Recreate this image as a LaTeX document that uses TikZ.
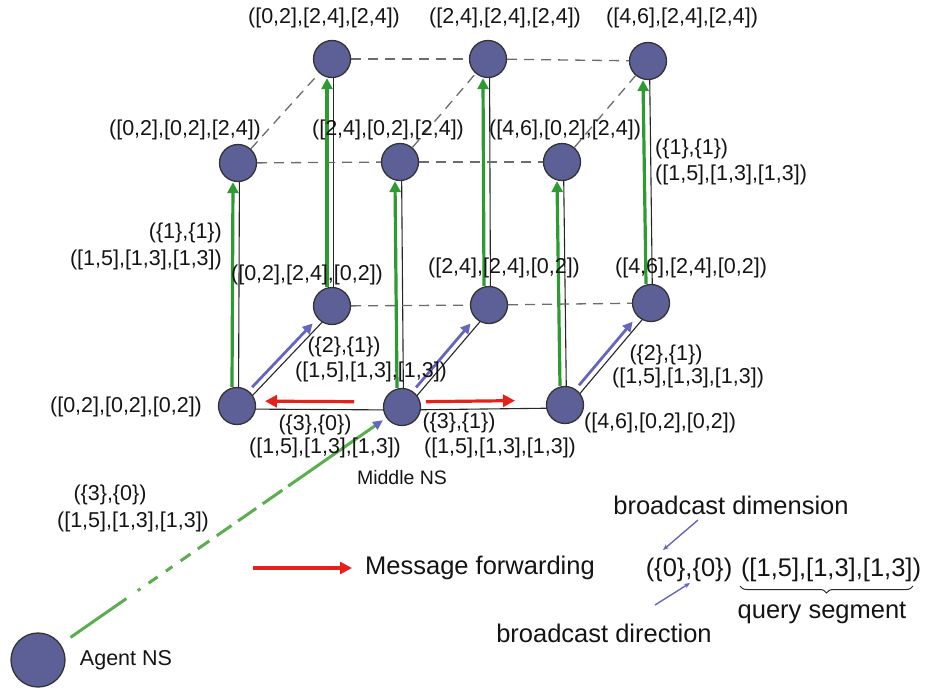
\documentclass[tikz,border=0pt]{standalone}
\usepackage{fontspec}
\setmainfont{Liberation Sans}
\usetikzlibrary{arrows.meta,calc,backgrounds,decorations.pathreplacing}
\definecolor{nsblue}{HTML}{5C6096}
\definecolor{arrgreen}{HTML}{2E9A32}
\definecolor{dgreen}{HTML}{5AAE4E}
\definecolor{fwdred}{HTML}{E8201C}
\definecolor{bblue}{HTML}{6666BE}
\begin{document}
\begin{tikzpicture}[x=1pt,y=-1pt,
 ns/.style={circle,draw=black!80,fill=nsblue,line width=1.3pt,minimum size=37pt,inner sep=0pt},
 agentns/.style={ns,minimum size=54pt},
 lbl/.style={font=\fontsize{21.5}{24}\selectfont,inner sep=0pt,text=black!92},
 leg/.style={font=\fontsize{25.5}{28}\selectfont,inner sep=0pt,text=black!92},
 edge/.style={draw=black!85,line width=1.1pt},
 dsh/.style={draw=gray!85!black,line width=1.3pt,dash pattern=on 10pt off 7pt},
 garr/.style={draw=arrgreen,line width=3.2pt,-{Triangle[length=11pt,width=11pt]}},
 rarr/.style={draw=fwdred,line width=3.2pt,-{Triangle[length=12pt,width=12pt]}},
 barr/.style={draw=bblue,line width=2.8pt,-{Triangle[length=10pt,width=10pt]}},
 thinb/.style={draw=bblue,line width=1.4pt,-{Stealth[length=6pt,width=5pt]}},
 gdash/.style={draw=dgreen,line width=3pt,-{Triangle[length=10pt,width=9pt,color=bblue]},
   dash pattern=on 68pt off 14pt on 3pt off 10pt on 11pt off 10pt on 8pt off 10pt on 12pt off 9pt on 14pt off 9pt on 18pt off 8pt on 22pt off 8pt on 24pt off 7pt on 400pt off 1pt},
]
\useasboundingbox (0,0) rectangle (932,688);

% nodes
\node[ns] (A) at (237,406) {};
\node[ns] (B) at (402,407) {};
\node[ns] (C) at (565,405) {};
\node[ns] (D) at (332,306) {};
\node[ns] (E) at (489,305) {};
\node[ns] (F) at (651,303) {};
\node[ns] (G) at (238,163) {};
\node[ns] (H) at (400,162) {};
\node[ns] (I) at (562,162) {};
\node[ns] (J) at (332,59) {};
\node[ns] (K) at (488,59) {};
\node[ns] (L) at (648,61) {};
\node[agentns] (AG) at (38,660) {};

\begin{scope}[on background layer]
 % vertical solid lines
 \foreach \a/\b in {A/G,B/H,C/I,D/J,E/K,F/L}
   \draw[edge] ([xshift=1.5pt]\a.center) -- ([xshift=1.5pt]\b.center);
 % bottom front horizontal
 \draw[edge] ([yshift=-3pt]A.center) -- ([yshift=-3pt]B.center);
 \draw[edge] ([yshift=-3pt]B.center) -- ([yshift=-3pt]C.center);
 % diagonals
 \foreach \a/\b in {A/D,B/E,C/F}
   \draw[edge] ($(\a)!4pt!-90:(\b)$) -- ($(\b)!4pt!90:(\a)$);
 % dashed lines
 \foreach \a/\b in {G/H,H/I,J/K,K/L,D/E,E/F,G/J,H/K,I/L}
   \draw[dsh] (\a) -- (\b);
\end{scope}

% green upward arrows
\foreach \a/\b in {A/G,B/H,C/I,D/J,E/K,F/L}
  \draw[garr] ([xshift=-5pt]\a.north) -- ([xshift=-5pt]\b.south);
% blue diagonal arrows
\foreach \a/\b in {A/D,B/E,C/F}
  \draw[barr] ($(\a)!24pt!(\b)!2pt!90:(\b)$) -- ($(\b)!26pt!(\a)!2pt!-90:(\a)$);
% red forwarding arrows
\draw[rarr] ($(B)!48pt!(A) + (0,-5)$) -- ($(A)!28pt!(B) + (0,-5)$);
\draw[rarr] ($(B)!24pt!(C) + (0,-5)$) -- ($(C)!50pt!(B) + (0,-5)$);
% agent to middle
\draw[gdash,shorten <=12pt,shorten >=4pt] (AG) -- (B);

% labels
\node[lbl] (lJ) at (324,18) {([0,2],[2,4],[2,4])};
\node[lbl] (lK) at (505,18) {([2,4],[2,4],[2,4])};
\node[lbl] (lL) at (682,18) {([4,6],[2,4],[2,4])};
\node[lbl] (lG) at (185,130) {([0,2],[0,2],[2,4])};
\node[lbl] (lH) at (388,130) {([2,4],[0,2],[2,4])};
\node[lbl] (lI) at (565,130) {([4,6],[0,2],[2,4])};
\node[lbl,anchor=west] (r1a) at (655,149) {(\{1\},\{1\})};
\node[lbl,anchor=west] (r1b) at (655,175) {([1,5],[1,3],[1,3])};
\node[lbl,anchor=east] (l1a) at (222,233) {(\{1\},\{1\})};
\node[lbl,anchor=east] (l1b) at (222,260) {([1,5],[1,3],[1,3])};
\node[lbl] (lD) at (307,275) {([0,2],[2,4],[0,2])};
\node[lbl] (lE) at (504,268) {([2,4],[2,4],[0,2])};
\node[lbl] (lF) at (691,268) {([4,6],[2,4],[0,2])};
\node[lbl] (m2a) at (344,347) {(\{2\},\{1\})};
\node[lbl] (m2b) at (371,372) {([1,5],[1,3],[1,3])};
\node[lbl] (r2a) at (666,355) {(\{2\},\{1\})};
\node[lbl] (r2b) at (688,378) {([1,5],[1,3],[1,3])};
\node[lbl] (lA) at (126,407) {([0,2],[0,2],[0,2])};
\node[lbl] (b3a) at (315,425) {(\{3\},\{0\})};
\node[lbl] (b3b) at (325,448) {([1,5],[1,3],[1,3])};
\node[lbl] (c3a) at (459,423) {(\{3\},\{1\})};
\node[lbl] (c3b) at (500,448) {([1,5],[1,3],[1,3])};
\node[lbl] (lC) at (660,423) {([4,6],[0,2],[0,2])};
\node[lbl,font=\fontsize{19.5}{22}\selectfont] (mid) at (402,478) {Middle NS};
\node[lbl] (g3a) at (110,495) {(\{3\},\{0\})};
\node[lbl] (g3b) at (133,522) {([1,5],[1,3],[1,3])};
\node[lbl] (agl) at (126,660) {Agent NS};

% legend
\coordinate (r1) at (253,568);
\coordinate (r2) at (352,568);
\draw[rarr] (r1) -- (r2);
\node[leg] (mf) at (480,568) {Message forwarding};
\node[leg] (t1) at (689,570) {(\{0\},\{0\})};
\node[leg] (t2) at (831,570) {([1,5],[1,3],[1,3])};
\node[leg] (bdim) at (731,505) {broadcast dimension};
\node[leg] (bdir) at (604,633) {broadcast direction};
\node[leg] (qs) at (822,613) {query segment};
\coordinate (q1) at (740,586);
\coordinate (q2) at (913,586);
\draw[black!85,line width=1pt,decorate,decoration={brace,mirror,amplitude=7pt}] (q1) -- (q2);
\coordinate (d1) at (698,520);
\coordinate (d2) at (663,550);
\draw[thinb] (d1) -- (d2);
\coordinate (e1) at (655,605);
\coordinate (e2) at (690,583);
\draw[thinb] (e1) -- (e2);
\end{tikzpicture}
\end{document}
